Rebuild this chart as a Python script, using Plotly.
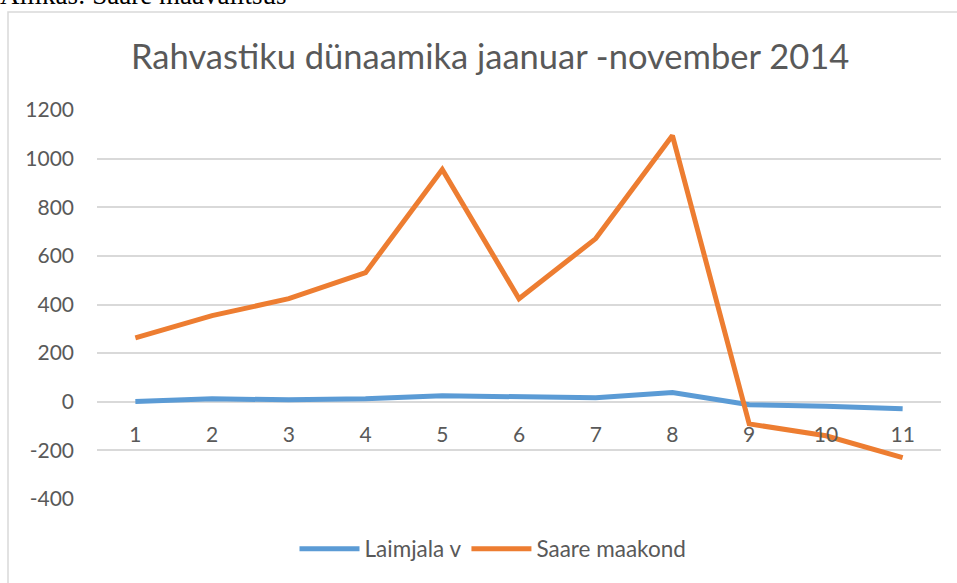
import plotly.graph_objects as go

months = ["1", "2", "3", "4", "5", "6", "7", "8", "9", "10", "11"]
laimjala = [1, 12, 8, 12, 25, 21, 16, 38, -12, -18, -29]
saare = [263, 354, 424, 531, 955, 424, 671, 1095, -91, -140, -230]
y_ticks = [-400, -200, 0, 200, 400, 600, 800, 1000, 1200]
y_tick_text = ["-400", "-200", "0", "200", "400", "600", "800", "1000", "1200"]

W, H = 957, 583
L, R, T, B = 97, 16, 110, 84
pw, ph = W - L - R, H - T - B

def px(x):
    return (x - L) / pw

def py(y):
    return 1 - (y - T) / ph

fig = go.Figure()
fig.add_trace(go.Scatter(x=months, y=laimjala, mode="lines", name="Laimjala v",
                         line=dict(color="#5B9BD5", width=5)))
fig.add_trace(go.Scatter(x=months, y=saare, mode="lines", name="Saare maakond",
                         line=dict(color="#ED7D31", width=5)))

font = "Lato, 'Open Sans', sans-serif"
fig.update_layout(
    width=W, height=H,
    margin=dict(l=L, r=R, t=T, b=B),
    paper_bgcolor="white", plot_bgcolor="white",
    font=dict(family=font, color="#595959", size=21),
    showlegend=True,
    legend=dict(orientation="h", x=px(493), xanchor="center", y=py(549), yanchor="middle",
                font=dict(size=22.5, color="#595959"), itemwidth=60),
    xaxis=dict(type="category", range=[-0.5, 10.5], anchor="free", position=0.25,
               showgrid=False, showline=False, zeroline=False, ticks="",
               ticklabelstandoff=18, tickfont=dict(size=21, color="#595959")),
    yaxis=dict(range=[-400, 1200], tickvals=y_ticks, ticktext=y_tick_text,
               showgrid=True, gridcolor="#D9D9D9", gridwidth=1.5, zeroline=False,
               showline=False, ticklabelstandoff=22,
               tickfont=dict(size=21, color="#595959")),
)

fig.add_shape(type="rect", xref="paper", yref="paper",
              x0=px(8), x1=px(1200), y0=py(800), y1=py(12),
              line=dict(color="#D9D9D9", width=1.5), fillcolor="rgba(0,0,0,0)", layer="below")

fig.add_annotation(text="Rahvastiku dünaamika jaanuar -november 2014",
                   xref="paper", yref="paper", x=px(490), y=py(55),
                   xanchor="center", yanchor="middle", showarrow=False,
                   font=dict(family=font, size=34.5, color="#595959"))

fig.add_annotation(text="Allikas: Saare maavalitsus",
                   xref="paper", yref="paper", x=px(-2), y=py(12),
                   xanchor="left", yanchor="bottom", showarrow=False,
                   font=dict(family="'Liberation Serif', 'Times New Roman', serif", size=27, color="#000000"))

fig.write_html("out.html", config={"displayModeBar": False},
               post_script="document.body.style.margin='0px';")
